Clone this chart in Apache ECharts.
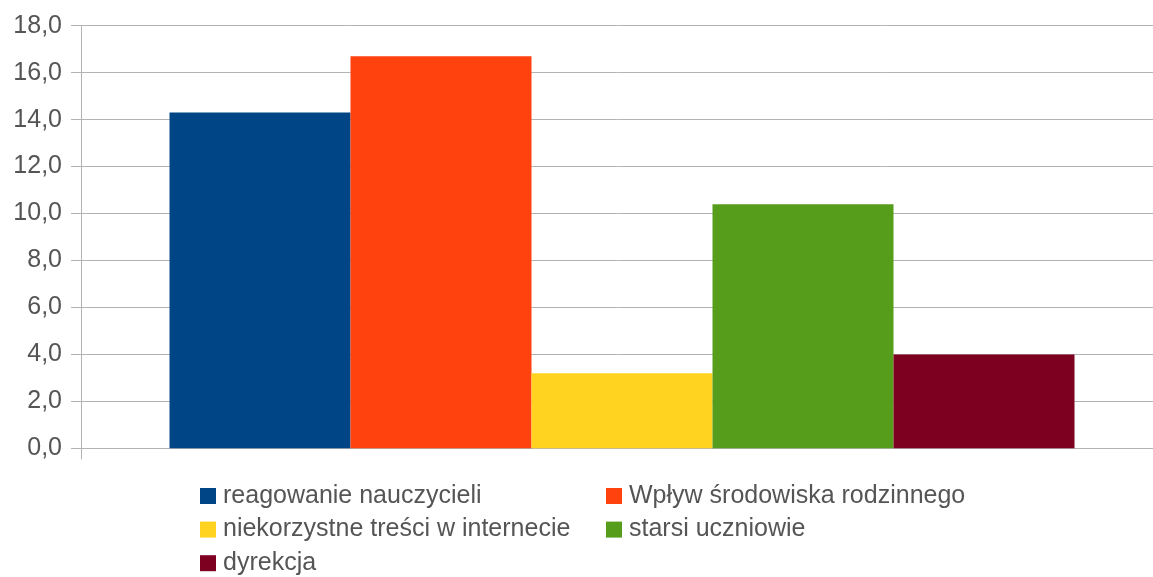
<!DOCTYPE html>
<html>
<head>
<meta charset="utf-8">
<script src="https://cdn.jsdelivr.net/npm/echarts@6/dist/echarts.min.js"></script>
<style>
  html, body { margin: 0; padding: 0; background: #fff; }
  #chart { width: 1153px; height: 577px; }
</style>
</head>
<body>
<div id="chart"></div>
<script>
// dane
const categories = ['']
const seriesNames = [
  'reagowanie nauczycieli',
  'Wpływ środowiska rodzinnego',
  'niekorzystne treści w internecie',
  'starsi uczniowie',
  'dyrekcja'
]
const seriesValues = [[14.3], [16.7], [3.2], [10.4], [4.0]]
const seriesColors = ['#004586', '#ff420e', '#ffd320', '#579d1c', '#7e0021']

const gridColor = '#b3b3b3'
const textColor = '#555555'
const font = '"Liberation Sans", Arial, sans-serif'

const chart = echarts.init(document.getElementById('chart'))

const legendBase = {
  orient: 'vertical',
  top: 483.5,
  height: 100,
  padding: 0,
  itemWidth: 16,
  itemHeight: 16,
  itemGap: 8.6,
  icon: 'rect',
  selectedMode: false,
  textStyle: {
    color: textColor,
    fontSize: 25,
    fontFamily: font,
    padding: [0, 0, 0, 2]
  }
}

chart.setOption({
  backgroundColor: '#ffffff',
  animation: false,
  grid: {
    left: 81,
    right: -10,
    top: 25.7,
    bottom: 128.7,
    containLabel: false,
    outerBoundsMode: 'none'
  },
  legend: [
    Object.assign({}, legendBase, {
      left: 200,
      data: [seriesNames[0], seriesNames[2], seriesNames[4]]
    }),
    Object.assign({}, legendBase, {
      left: 606,
      data: [seriesNames[1], seriesNames[3]]
    })
  ],
  xAxis: {
    type: 'category',
    data: categories,
    axisLine: { show: true, lineStyle: { color: gridColor, width: 1 } },
    axisTick: { show: true, length: 11, lineStyle: { color: gridColor } },
    axisLabel: { show: false },
    splitLine: { show: false }
  },
  yAxis: {
    type: 'value',
    min: 0,
    max: 18,
    interval: 2,
    axisLine: { show: true, lineStyle: { color: gridColor, width: 1 } },
    axisTick: { show: true, length: 10, lineStyle: { color: gridColor } },
    axisLabel: {
      color: textColor,
      fontSize: 25,
      fontFamily: font,
      margin: 19,
      formatter: (v) => v.toFixed(1).replace('.', ',')
    },
    splitLine: { show: true, lineStyle: { color: gridColor, width: 1 } }
  },
  series: seriesNames.map((name, i) => ({
    name: name,
    type: 'bar',
    data: seriesValues[i],
    barWidth: 181,
    barGap: '0%',
    itemStyle: { color: seriesColors[i] }
  }))
})
</script>
</body>
</html>
